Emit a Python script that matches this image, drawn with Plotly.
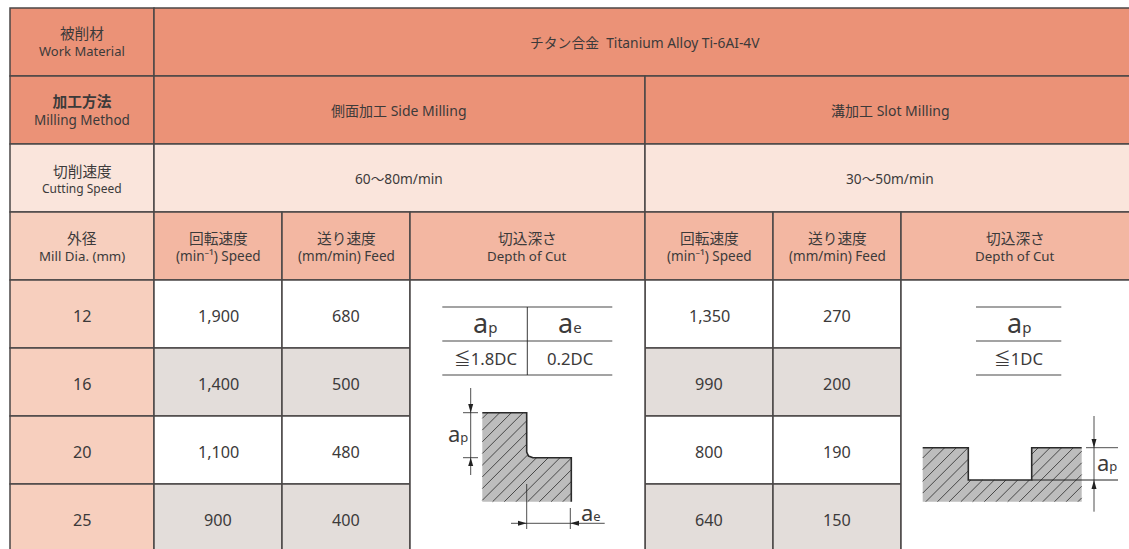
import plotly.graph_objects as go

# ---- table content ----
material_label = ["被削材", "Work Material"]
material_value = "チタン合金  Titanium Alloy Ti-6AI-4V"
method_label = ["<b>加工方法</b>", "Milling Method"]
method_values = ["側面加工 Side Milling", "溝加工 Slot Milling"]
speed_label = ["切削速度", "Cutting Speed"]
speed_values = ["60〜80m/min", "30〜50m/min"]
dia_header = ["外径", "Mill Dia. (mm)"]
rpm_header = ["回転速度", "(min⁻¹) Speed"]
feed_header = ["送り速度", "(mm/min) Feed"]
doc_header = ["切込深さ", "Depth of Cut"]
diameters = [12, 16, 20, 25]
side_rpm = [1900, 1400, 1100, 900]
side_feed = [680, 500, 480, 400]
slot_rpm = [1350, 990, 800, 640]
slot_feed = [270, 200, 190, 150]

# ---- layout grid (pixels) ----
X = [10, 154, 282, 410, 645, 773, 901, 1135]
Y = [8, 76, 144, 212, 280, 348, 416, 484, 552]
W, H = 1129, 549
FONT = "Noto Sans, Noto Sans CJK JP, sans-serif"
INK = "#3c3a3a"
LINE = "#4b4747"
DARK, PALE, HEAD, FIRST, GRAY = "#EB9277", "#FAE5DC", "#F3B7A2", "#F7CFBE", "#E3DDDA"

shapes, annos = [], []


def cell(x0, x1, y0, y1, fill):
    shapes.append(dict(type="rect", xref="x", yref="y", x0=x0, x1=x1, y0=y0, y1=y1,
                       fillcolor=fill, line=dict(color=LINE, width=1.5), layer="below"))


def seg(x0, y0, x1, y1, color="#222222", width=0.8):
    shapes.append(dict(type="line", xref="x", yref="y", x0=x0, y0=y0, x1=x1, y1=y1,
                       line=dict(color=color, width=width), layer="above"))


def head(tx, ty, bx, by, half=2.5):
    """arrowhead: tip (tx,ty), base centre (bx,by)"""
    if tx == bx:
        p = f"M{tx},{ty} L{bx-half},{by} L{bx+half},{by} Z"
    else:
        p = f"M{tx},{ty} L{bx},{by-half} L{bx},{by+half} Z"
    shapes.append(dict(type="path", xref="x", yref="y", path=p, fillcolor="#222222",
                       line=dict(width=0), layer="above"))


def text(x, y, s, size=13, color=INK):
    annos.append(dict(x=x, y=y, xref="x", yref="y", text=s, showarrow=False,
                      xanchor="center", yanchor="middle", align="center",
                      font=dict(family=FONT, size=size, color=color)))


def two(x, y0, y1, lines, s0=14.7, s1=13.3):
    text(x, y0, lines[0], s0)
    text(x, y1, lines[1], s1)


def stacked(x, y, lines, s0, s1):
    text(x, y, f'<span style="font-size:{s0}px">{lines[0]}</span><br>{lines[1]}', s1)


def sym(sub, sub_size=14):
    return f'a<span style="font-size:{sub_size}px">{sub}</span>'


def hatch_lines(xs, ys, start, step):
    """diagonal hatch x+y=c clipped to the closed polygon (xs, ys)"""
    ox, oy = [], []
    c = start
    cmax = max(a + b for a, b in zip(xs, ys))
    cmin = min(a + b for a, b in zip(xs, ys))
    while c - step > cmin:
        c -= step
    while c < cmax:
        hits = []
        for i in range(len(xs) - 1):
            s0, s1 = xs[i] + ys[i] - c, xs[i + 1] + ys[i + 1] - c
            if s0 * s1 < 0:
                t = s0 / (s0 - s1)
                hits.append((xs[i] + t * (xs[i + 1] - xs[i]), ys[i] + t * (ys[i + 1] - ys[i])))
        hits.sort()
        for a, b in zip(hits[0::2], hits[1::2]):
            ox += [a[0], b[0], None]
            oy += [a[1], b[1], None]
        c += step
    return ox, oy


# ---- cells ----
cell(X[0], X[1], Y[0], Y[1], DARK)
cell(X[1], X[7], Y[0], Y[1], DARK)
cell(X[0], X[1], Y[1], Y[2], DARK)
cell(X[1], X[4], Y[1], Y[2], DARK)
cell(X[4], X[7], Y[1], Y[2], DARK)
cell(X[0], X[1], Y[2], Y[3], PALE)
cell(X[1], X[4], Y[2], Y[3], PALE)
cell(X[4], X[7], Y[2], Y[3], PALE)
cell(X[0], X[1], Y[3], Y[4], FIRST)
for i in [1, 2, 3, 4, 5, 6]:
    cell(X[i], X[i + 1], Y[3], Y[4], HEAD)
for r in range(4):
    y0, y1 = Y[4 + r], Y[5 + r]
    fill = GRAY if r % 2 else "white"
    cell(X[0], X[1], y0, y1, FIRST)
    for c in [1, 2, 4, 5]:
        cell(X[c], X[c + 1], y0, y1, fill)
cell(X[3], X[4], Y[4], Y[8], "white")
cell(X[6], X[7], Y[4], Y[8], "white")

# ---- header text ----
cx = [(X[i] + X[i + 1]) / 2 for i in range(7)]
stacked(cx[0], 41.5, material_label, 14.7, 13)
text(645, 42.5, material_value, 13.8)
stacked(cx[0], 110, method_label, 14.7, 13.5)
text(399, 110.5, method_values[0], 14)
text(890, 110.5, method_values[1], 14)
two(cx[0], 171, 188, speed_label, 14.7, 12)
text(399, 178.5, speed_values[0], 13.7)
text(890, 178.5, speed_values[1], 13.7)
two(cx[0], 237.5, 256, dia_header)
for c, hdr in [(1, rpm_header), (2, feed_header), (4, rpm_header), (5, feed_header)]:
    two(cx[c], 237.5, 256, hdr, 14.7, 13.5)
two(527, 237.5, 256, doc_header)
two(1015, 237.5, 256, doc_header)

# ---- body values ----
for r in range(4):
    ym = (Y[4 + r] + Y[5 + r]) / 2 + 2
    text(cx[0], ym, str(diameters[r]), 16.2)
    text(cx[1], ym, f"{side_rpm[r]:,}", 16.2)
    text(cx[2], ym, f"{side_feed[r]:,}", 16.2)
    text(cx[4], ym, f"{slot_rpm[r]:,}", 16.2)
    text(cx[5], ym, f"{slot_feed[r]:,}", 16.2)

# ---- small depth tables ----
for y in (307, 341, 375):
    seg(442.3, y, 612.3, y, "#858585", 1.3)
    seg(976, y, 1061.3, y, "#858585", 1.3)
seg(527.3, 307, 527.3, 375, "#222222", 0.9)
text(485, 322, sym("p", 15), 27)
text(570, 322, sym("e", 15), 27)
text(485, 358, "≦1.8DC", 16.7)
text(570, 358, "0.2DC", 16.7)
text(1018.7, 322, sym("p", 15), 27)
text(1018.7, 358, "≦1DC", 16.7)

# ---- hatched diagrams ----
side_x = [482.3, 526.7, 526.7, 528.5, 533, 571.3, 571.3, 482.3, 482.3]
side_y = [412.7, 412.7, 452, 456, 457.7, 457.7, 501.7, 501.7, 412.7]
slot_x = [922.7, 968.3, 968.3, 1031.7, 1031.7, 1081.7, 1081.7, 922.7, 922.7]
slot_y = [447.7, 447.7, 480, 480, 447.7, 447.7, 501.7, 501.7, 447.7]

hx1, hy1 = hatch_lines(side_x, side_y, 900.7, 11.7)
hx2, hy2 = hatch_lines(slot_x, slot_y, 1380.7, 11.7)

traces = [
    go.Scatter(x=side_x + [None] + slot_x, y=side_y + [None] + slot_y, mode="none", fill="toself",
               fillcolor="#BDBDBD", hoverinfo="skip", showlegend=False),
    go.Scatter(x=hx1 + hx2, y=hy1 + hy2, mode="lines", line=dict(color="#2a2a2a", width=0.8),
               hoverinfo="skip", showlegend=False),
    go.Scatter(x=side_x[:7] + [None] + slot_x[:6], y=side_y[:7] + [None] + slot_y[:6], mode="lines",
               line=dict(color="#2a2a2a", width=1.6), hoverinfo="skip", showlegend=False),
]

# side-milling dimensions
seg(470.7, 388, 470.7, 475)
seg(463, 412.7, 478, 412.7)
seg(463, 457.7, 478, 457.7)
head(470.7, 412.7, 470.7, 404)
head(470.7, 457.7, 470.7, 466)
text(458, 433, sym("p", 13), 22)
seg(526.7, 484, 526.7, 529)
seg(570.3, 508, 570.3, 529)
seg(511, 523.3, 604.7, 523.3)
head(526.7, 523.3, 518, 523.3)
head(570.3, 523.3, 579, 523.3)
text(591, 512, sym("e", 13), 22)

# slot-milling dimensions
seg(1094, 416, 1094, 511.7)
seg(1086, 447.7, 1118, 447.7)
seg(1031.7, 480, 1118, 480, "#222222", 1)
head(1094, 447.7, 1094, 439)
head(1094, 480, 1094, 489)
text(1106.7, 462, sym("p", 13), 22)

fig = go.Figure(traces)
fig.update_layout(
    width=W, height=H, margin=dict(l=0, r=0, t=0, b=0, pad=0), autosize=False,
    paper_bgcolor="white", plot_bgcolor="white", showlegend=False,
    shapes=shapes, annotations=annos,
    xaxis=dict(range=[0, W], visible=False, fixedrange=True),
    yaxis=dict(range=[H, 0], visible=False, fixedrange=True),
)
fig.write_html("out.html", config={"displayModeBar": False, "responsive": False},
               post_script="document.body.style.margin='0';document.body.style.overflow='hidden';")
